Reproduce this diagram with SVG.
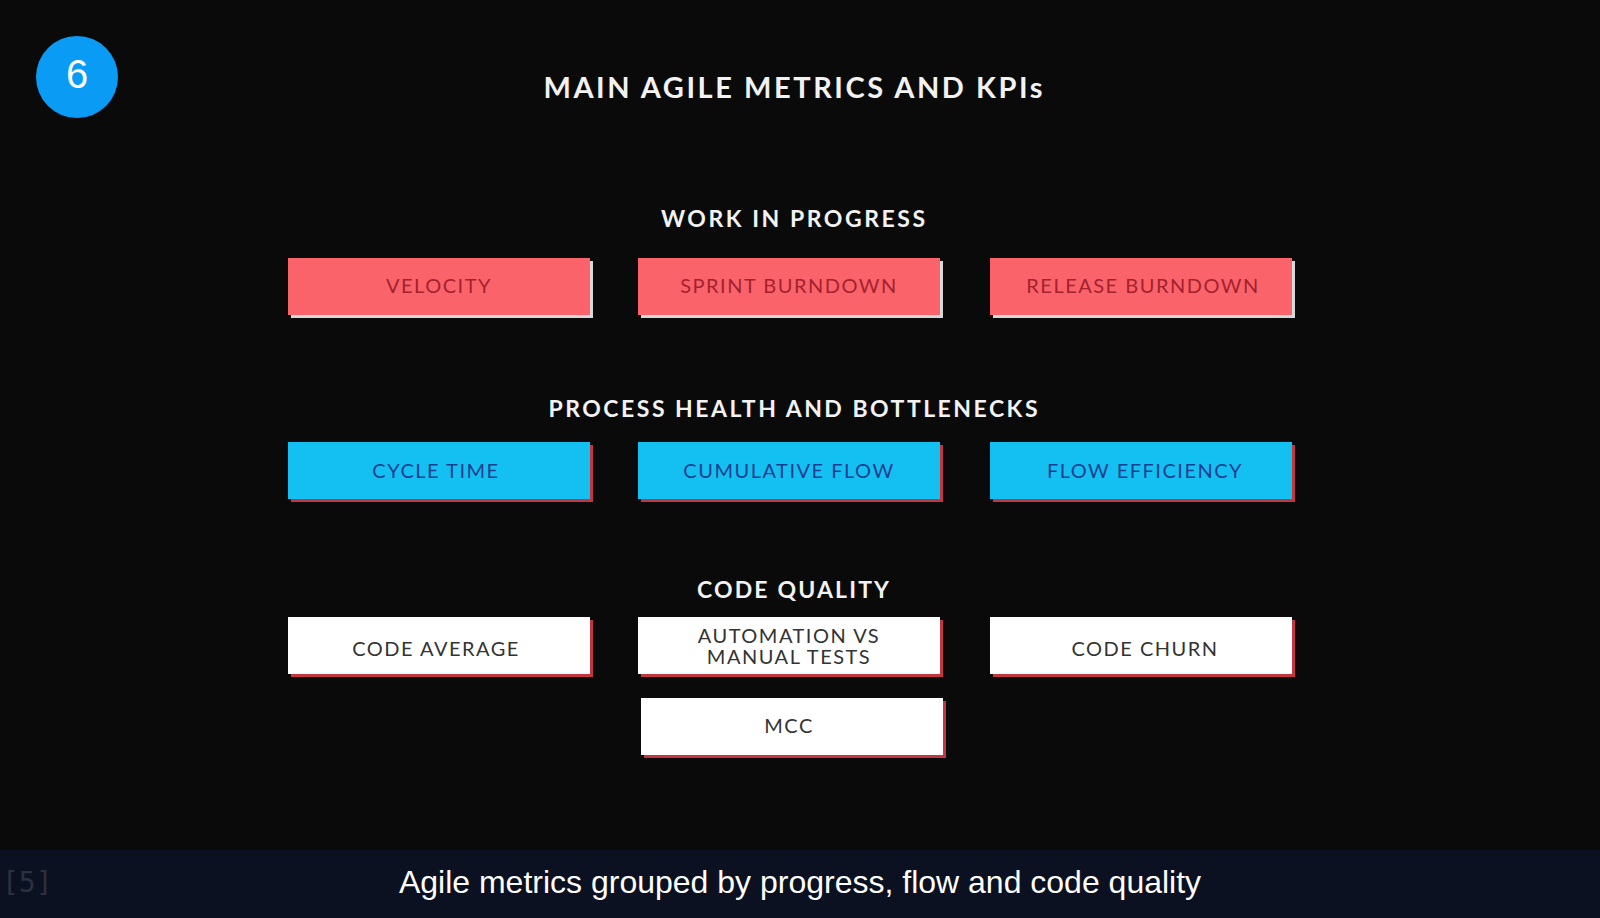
<svg xmlns="http://www.w3.org/2000/svg" width="1600" height="918" viewBox="0 0 1600 918">
<style>
.h{font-family:Lato,"Open Sans",sans-serif;font-weight:bold;fill:#f2f2f2;text-anchor:middle}
.t{font-family:Lato,"Open Sans",sans-serif;font-size:20px;text-anchor:middle;dominant-baseline:central;letter-spacing:1.5px}
.r rect.f{fill:#fb636b}.r text{fill:#a3222e}
.b rect.f{fill:#14c0f2}.b text{fill:#1d3f8f}
.w rect.f{fill:#ffffff}.w text{fill:#333}
rect.s{fill:#d8d8d8}
.b rect.s,.w rect.s{fill:#c3363f}
</style>
<rect width="1600" height="918" fill="#0a0a0a"/>
<rect y="850" width="1600" height="68" fill="#0b1120"/>
<g id="badge"><circle cx="77" cy="77" r="41" fill="#0a9cf5"/><text x="77" y="88" font-family="Liberation Sans,sans-serif" font-size="40" fill="#fff" text-anchor="middle">6</text></g>
<text class="h" x="793" y="98" font-size="29" textLength="499" lengthAdjust="spacing">MAIN AGILE METRICS AND KPIs</text>
<text class="h" x="793" y="227" font-size="23" textLength="264" lengthAdjust="spacing">WORK IN PROGRESS</text>
<text class="h" x="793" y="417" font-size="23" textLength="489" lengthAdjust="spacing">PROCESS HEALTH AND BOTTLENECKS</text>
<text class="h" x="793" y="598" font-size="23" textLength="192" lengthAdjust="spacing">CODE QUALITY</text>
<g id="velocity" class="r"><rect class="s" x="291" y="261" width="302" height="57"/><rect class="f" x="288" y="258" width="302" height="57"/><text class="t" x="439" y="285">VELOCITY</text></g>
<g id="sprint" class="r"><rect class="s" x="641" y="261" width="302" height="57"/><rect class="f" x="638" y="258" width="302" height="57"/><text class="t" x="789" y="285">SPRINT BURNDOWN</text></g>
<g id="release" class="r"><rect class="s" x="993" y="261" width="302" height="57"/><rect class="f" x="990" y="258" width="302" height="57"/><text class="t" x="1143" y="285">RELEASE BURNDOWN</text></g>
<g id="cycle" class="b"><rect class="s" x="291" y="445" width="302" height="57"/><rect class="f" x="288" y="442" width="302" height="57"/><text class="t" x="436" y="470">CYCLE TIME</text></g>
<g id="cumulative" class="b"><rect class="s" x="641" y="445" width="302" height="57"/><rect class="f" x="638" y="442" width="302" height="57"/><text class="t" x="789" y="470">CUMULATIVE FLOW</text></g>
<g id="floweff" class="b"><rect class="s" x="993" y="445" width="302" height="57"/><rect class="f" x="990" y="442" width="302" height="57"/><text class="t" x="1145" y="470">FLOW EFFICIENCY</text></g>
<g id="codeavg" class="w"><rect class="s" x="291" y="620" width="302" height="57"/><rect class="f" x="288" y="617" width="302" height="57"/><text class="t" x="436" y="648">CODE AVERAGE</text></g>
<g id="automation" class="w"><rect class="s" x="641" y="620" width="302" height="57"/><rect class="f" x="638" y="617" width="302" height="57"/><text class="t" x="789" y="635">AUTOMATION VS</text><text class="t" x="789" y="656">MANUAL TESTS</text></g>
<g id="churn" class="w"><rect class="s" x="993" y="620" width="302" height="57"/><rect class="f" x="990" y="617" width="302" height="57"/><text class="t" x="1145" y="648">CODE CHURN</text></g>
<g id="mcc" class="w"><rect class="s" x="644" y="701" width="302" height="57"/><rect class="f" x="641" y="698" width="302" height="57"/><text class="t" x="789" y="725">MCC</text></g>
<g id="connectors"/>
<text x="2" y="892" font-family="DejaVu Sans Mono,monospace" font-size="28" fill="#2a3140">[5]</text>
<text x="800" y="893" font-family="Liberation Sans,Arial,sans-serif" font-size="32" fill="#fff" text-anchor="middle">Agile metrics grouped by progress, flow and code quality</text>
</svg>
